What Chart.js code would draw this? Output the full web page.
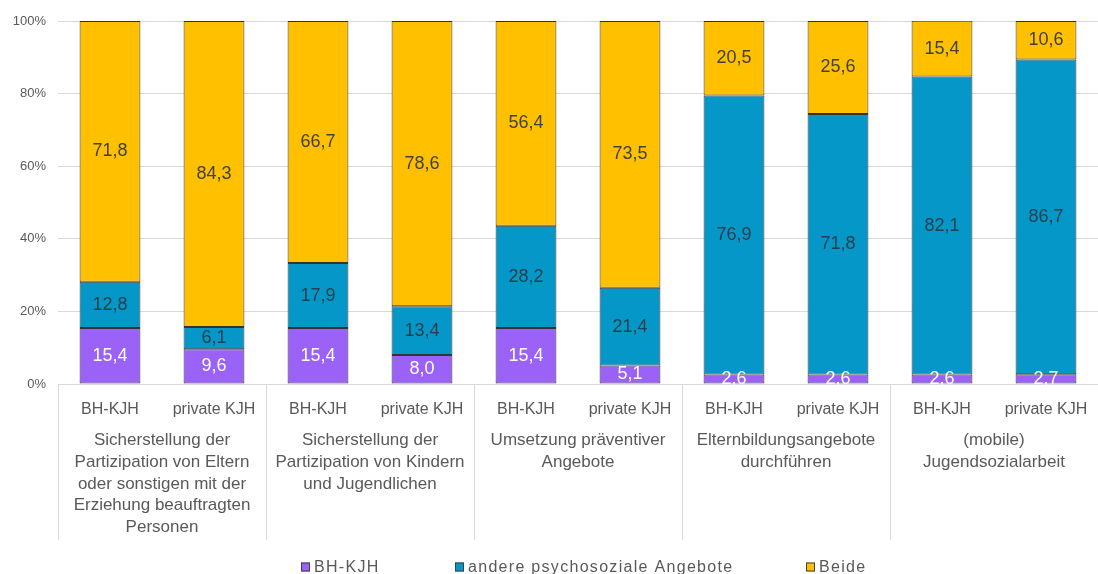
<!DOCTYPE html>
<html>
<head>
<meta charset="utf-8">
<script src="https://cdn.jsdelivr.net/npm/chart.js@4.4.1/dist/chart.umd.min.js"></script>
<style>
  html, body { margin: 0; padding: 0; background: #ffffff; }
  #wrap { width: 1098px; height: 574px; position: relative; }
</style>
</head>
<body>
<div id="wrap"><canvas id="chart"></canvas></div>
<script>
// Bars: provider type per task area
const barLabels = [
  'BH-KJH', 'private KJH',
  'BH-KJH', 'private KJH',
  'BH-KJH', 'private KJH',
  'BH-KJH', 'private KJH',
  'BH-KJH', 'private KJH'
];

// Task areas, each spanning two bars
const groupLabels = [
  ['Sicherstellung der', 'Partizipation von Eltern', 'oder sonstigen mit der', 'Erziehung beauftragten', 'Personen'],
  ['Sicherstellung der', 'Partizipation von Kindern', 'und Jugendlichen'],
  ['Umsetzung präventiver', 'Angebote'],
  ['Elternbildungsangebote', 'durchführen'],
  ['(mobile)', 'Jugendsozialarbeit']
];

const seriesNames = ['BH-KJH', 'andere psychosoziale Angebote', 'Beide'];

// Shares in percent
const bhKjh  = [15.4, 9.6, 15.4, 8.0, 15.4, 5.1, 2.6, 2.6, 2.6, 2.7];
const andere = [12.8, 6.1, 17.9, 13.4, 28.2, 21.4, 76.9, 71.8, 82.1, 86.7];
const beide  = [71.8, 84.3, 66.7, 78.6, 56.4, 73.5, 20.5, 25.6, 15.4, 10.6];

const yTicks = [0, 20, 40, 60, 80, 100];

const FONT = '"Liberation Sans", Arial, sans-serif';
const GREY = '#595959';

const fmt = v => v.toFixed(1).replace('.', ',');

// Value labels centred inside each bar segment
const segmentLabels = {
  id: 'segmentLabels',
  afterDatasetsDraw(chart) {
    const ctx = chart.ctx;
    ctx.save();
    ctx.font = '18px ' + FONT;
    ctx.textAlign = 'center';
    ctx.textBaseline = 'middle';
    chart.data.datasets.forEach((ds, di) => {
      const meta = chart.getDatasetMeta(di);
      ctx.fillStyle = ds.labelColor;
      meta.data.forEach((el, i) => {
        const p = el.getProps(['x', 'y', 'base'], true);
        ctx.fillText(fmt(ds.data[i]), p.x, (p.y + p.base) / 2);
      });
    });
    ctx.restore();
  }
};

// Vertical dividers between task areas in the category axis band
const groupDividers = {
  id: 'groupDividers',
  afterDraw(chart) {
    const xg = chart.scales.xGroup;
    const ctx = chart.ctx;
    const step = xg.getPixelForValue(1) - xg.getPixelForValue(0);
    ctx.save();
    ctx.strokeStyle = '#d9d9d9';
    ctx.lineWidth = 1;
    for (let i = 0; i <= groupLabels.length; i++) {
      const px = Math.round(xg.getPixelForValue(i) - step / 2) + 0.5;
      ctx.beginPath();
      ctx.moveTo(px, chart.chartArea.bottom);
      ctx.lineTo(px, xg.bottom);
      ctx.stroke();
    }
    ctx.restore();
  }
};

// Legend row along the bottom
const bottomLegend = {
  id: 'bottomLegend',
  afterDraw(chart, args, opts) {
    const ctx = chart.ctx;
    ctx.save();
    ctx.font = opts.fontSize + 'px ' + FONT;
    if ('letterSpacing' in ctx) ctx.letterSpacing = opts.spacing + 'px';
    ctx.textBaseline = 'middle';
    ctx.textAlign = 'left';
    chart.data.datasets.forEach((ds, i) => {
      const x = opts.starts[i];
      const y = opts.y;
      const b = opts.box;
      ctx.fillStyle = ds.backgroundColor;
      ctx.fillRect(x, y - b / 2, b, b);
      ctx.strokeStyle = '#404040';
      ctx.lineWidth = 1;
      ctx.strokeRect(x + 0.5, y - b / 2 + 0.5, b - 1, b - 1);
      ctx.fillStyle = GREY;
      ctx.fillText(ds.label, x + b + 4, y + 1);
    });
    ctx.restore();
  }
};

const makeSet = (name, data, color, labelColor) => ({
  label: name,
  data: data,
  backgroundColor: color,
  borderColor: '#333333',
  borderWidth: 1,
  borderSkipped: false,
  barPercentage: 0.585,
  categoryPercentage: 1.0,
  labelColor: labelColor
});

// Category axes span the full plot width without edge padding
const noEdgePadding = scale => { scale.paddingLeft = 0; scale.paddingRight = 0; };

new Chart(document.getElementById('chart'), {
  type: 'bar',
  data: {
    labels: barLabels,
    datasets: [
      makeSet(seriesNames[0], bhKjh, '#9a62f7', '#ffffff'),
      makeSet(seriesNames[1], andere, '#0597c8', '#23404f'),
      makeSet(seriesNames[2], beide, '#ffc000', '#404040')
    ]
  },
  options: {
    responsive: true,
    maintainAspectRatio: false,
    animation: false,
    devicePixelRatio: 1,
    layout: { padding: { top: 21, right: -3, bottom: 34, left: 0 } },
    plugins: {
      legend: { display: false },
      tooltip: { enabled: false },
      bottomLegend: { starts: [301, 455, 806], y: 567, box: 9, fontSize: 16, spacing: 1.3 }
    },
    scales: {
      x: {
        stacked: true,
        position: 'bottom',
        grid: { display: false, drawTicks: false },
        border: { display: false },
        ticks: { color: GREY, font: { family: FONT, size: 16 }, padding: 16, maxRotation: 0, autoSkip: false },
        afterFit(scale) { scale.height = 40; noEdgePadding(scale); }
      },
      xGroup: {
        type: 'category',
        labels: groupLabels,
        position: 'bottom',
        offset: true,
        grid: { display: false, drawTicks: false },
        border: { display: false },
        ticks: { color: GREY, font: { family: FONT, size: 17, lineHeight: 1.27 }, padding: 6, maxRotation: 0, autoSkip: false },
        afterFit(scale) { scale.height = 116; noEdgePadding(scale); }
      },
      y: {
        stacked: true,
        min: 0,
        max: 100,
        afterBuildTicks(scale) { scale.ticks = yTicks.map(v => ({ value: v })); },
        grid: { color: '#d9d9d9', drawTicks: false },
        border: { display: false },
        ticks: { color: GREY, font: { family: FONT, size: 13 }, padding: 12, callback: v => v + '%' },
        afterFit(scale) { scale.width = 58; }
      }
    }
  },
  plugins: [segmentLabels, groupDividers, bottomLegend]
});
</script>
</body>
</html>
